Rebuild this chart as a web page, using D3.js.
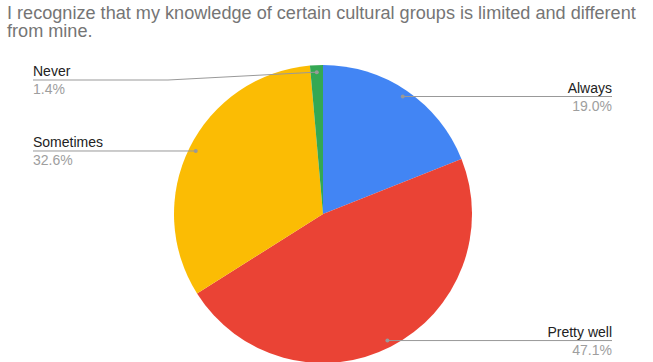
<!DOCTYPE html>
<html>
<head>
<meta charset="utf-8">
<script src="https://cdn.jsdelivr.net/npm/d3@7"></script>
<style>
  html, body { margin: 0; padding: 0; background: #fff; }
  svg { display: block; font-family: 'Liberation Sans', Arial, sans-serif; }
</style>
</head>
<body>
<svg id="chart" width="653" height="362"></svg>
<script>
const titleLines = ['I recognize that my knowledge of certain cultural groups is limited and different', 'from mine.'];
const categories = ['Always', 'Pretty well', 'Sometimes', 'Never'];
const values = [19.0, 47.1, 32.6, 1.4];
const colors = ['#4285f4', '#ea4335', '#fbbc04', '#34a853'];

const width = 653, height = 362;
const cx = 323, cy = 214, radius = 149;
const svg = d3.select('#chart');

// title
const title = svg.append('g').attr('class', 'title');
titleLines.forEach((line, i) => {
    title.append('text')
        .text(line)
        .attr('x', 7)
        .attr('y', 18.5 + i * 18)
        .style('font-size', '18px')
        .style('fill', '#757575');
});
// fit first line to the width seen in the reference
const firstLine = title.select('text').node();
const w = firstLine.getComputedTextLength();
title.selectAll('text').style('font-size', (18 * 629 / w).toFixed(2) + 'px');

const data = categories.map((c, i) => ({name: c, value: values[i], color: colors[i]}));

const pie = d3.pie().sort(null).value(d => d.value);
const arcs = pie(data);
const arc = d3.arc().innerRadius(0).outerRadius(radius);
const dotArc = d3.arc().innerRadius(radius * 0.953).outerRadius(radius * 0.953);

const pieGroup = svg.append('g')
    .attr('class', 'pie')
    .attr('transform', `translate(${cx}, ${cy})`);

pieGroup.selectAll('path')
    .data(arcs)
    .enter().append('path')
    .attr('d', arc)
    .attr('fill', d => d.data.color);

// leader lines + labels
const leftX = 33, rightX = 612, minLineY = 80;
const labels = svg.append('g').attr('class', 'labels');

arcs.forEach(a => {
    const [dx, dy] = dotArc.centroid(a);
    const px = cx + dx, py = cy + dy;
    const isRight = dx > 0;
    const lineY = Math.max(py, minLineY);
    const endX = isRight ? rightX : leftX;

    let points = [[px, py]];
    if (lineY !== py) {
        const elbowX = isRight ? endX - 135 : endX + 135;
        points.push([elbowX, lineY]);
    }
    points.push([endX, lineY]);

    labels.append('path')
        .attr('d', d3.line()(points))
        .attr('fill', 'none')
        .attr('stroke', '#999')
        .attr('stroke-width', 1);

    labels.append('circle')
        .attr('cx', px)
        .attr('cy', py)
        .attr('r', 2)
        .attr('fill', '#999');

    labels.append('text')
        .text(a.data.name)
        .attr('x', endX)
        .attr('y', lineY - 4)
        .style('text-anchor', isRight ? 'end' : 'start')
        .style('font-size', '14px')
        .style('fill', '#222');

    labels.append('text')
        .text(a.data.value.toFixed(1) + '%')
        .attr('x', endX)
        .attr('y', lineY + 14)
        .style('text-anchor', isRight ? 'end' : 'start')
        .style('font-size', '14px')
        .style('fill', '#9e9e9e');
});
</script>
</body>
</html>
